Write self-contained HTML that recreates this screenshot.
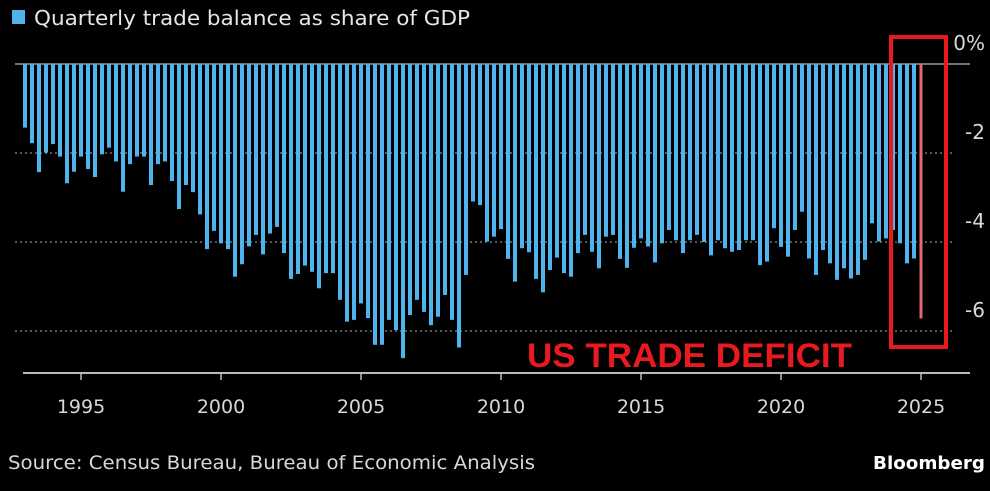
<!DOCTYPE html>
<html><head><meta charset="utf-8"><style>
html,body{margin:0;padding:0;background:#000;}
svg{display:block;font-family:"DejaVu Sans","Liberation Sans",sans-serif;}
</style></head><body>
<svg id="chart" width="990" height="491" viewBox="0 0 990 491">
<rect x="0" y="0" width="990" height="491" fill="#000"/>
<g>
<rect x="12" y="10" width="13" height="14" fill="#4fb3ee"/>
<text x="34" y="25" fill="#e6e6e6" font-size="20" textLength="436" lengthAdjust="spacingAndGlyphs">Quarterly trade balance as share of GDP</text>
</g>
<g id="grid"></g>
<g id="bars"></g>
<g id="xaxis"></g>
<g id="yaxis"></g>
<text x="527" y="367" fill="#e8191f" font-family="Liberation Sans, sans-serif" font-weight="bold" font-size="34" textLength="325" lengthAdjust="spacingAndGlyphs">US TRADE DEFICIT</text>
<rect x="891" y="37" width="55" height="310" fill="none" stroke="#e8191f" stroke-width="4"/>
<text x="8" y="469" fill="#d8d8d8" font-size="19" textLength="527" lengthAdjust="spacingAndGlyphs">Source: Census Bureau, Bureau of Economic Analysis</text>
<text x="985" y="469" fill="#fff" font-weight="bold" font-size="18" text-anchor="end" textLength="112" lengthAdjust="spacingAndGlyphs">Bloomberg</text>
</svg>
<script>
const startYear = 1993;
const values = [1.43,1.78,2.43,1.99,1.80,2.08,2.68,2.42,2.08,2.36,2.54,2.03,1.88,2.19,2.87,2.25,2.08,2.08,2.72,2.25,2.19,2.63,3.26,2.72,2.88,3.38,4.16,3.75,4.03,4.16,4.78,4.50,4.10,3.84,4.28,3.81,3.66,4.25,4.83,4.72,4.53,4.67,5.04,4.70,4.70,5.30,5.79,5.75,5.38,5.71,6.31,6.31,5.75,5.98,6.61,5.64,5.30,5.57,5.87,5.68,5.19,5.75,6.37,4.74,3.09,3.17,3.99,3.88,3.71,4.38,4.89,4.14,4.23,4.83,5.13,4.63,4.35,4.70,4.78,4.25,3.84,4.22,4.59,3.88,3.84,4.38,4.58,4.13,3.92,4.10,4.46,4.03,3.73,3.96,4.25,3.96,3.84,4.00,4.30,3.96,4.14,4.22,4.18,3.96,3.96,4.52,4.44,3.69,4.11,4.33,3.73,3.32,4.37,4.74,4.18,4.48,4.85,4.59,4.82,4.74,4.40,3.58,3.99,3.92,3.73,4.03,4.48,4.37,5.72];
const yTicks = [0,2,4,6];
const yTickLabels = ["0%","-2","-4","-6"];
const xYears = [1995,2000,2005,2010,2015,2020,2025];

const NS="http://www.w3.org/2000/svg";
function xScale(i){return 25 + i*7;}
function yScale(v){return 64 + v*44.5;}
function mk(tag,attrs,parent){const e=document.createElementNS(NS,tag);for(const k in attrs)e.setAttribute(k,attrs[k]);parent.appendChild(e);return e;}

const grid=document.getElementById('grid');
yTicks.forEach((t,i)=>{
  if(t===0){
    const l=mk('line',{x1:15,x2:970,y1:yScale(t),y2:yScale(t),stroke:'#9a9a9a','stroke-width':1.5},grid);
    
    
  } else {
    const l=mk('line',{x1:15,x2:955,y1:yScale(t),y2:yScale(t),stroke:'#8a8a8a','stroke-width':1.2,'stroke-dasharray':'2,3'},grid);
    
    
  }
});

const bars=document.getElementById('bars');
values.forEach((v,i)=>{
  const last=i===values.length-1;
  const w=last?3:4;
  const r=mk('rect',{x:xScale(i)-w/2,y:yScale(0),width:w,height:yScale(v)-yScale(0),fill:last?'#e46a6e':'#4fb3ee'},bars);
  
  
});

const xa=document.getElementById('xaxis');
const ax=mk('line',{x1:23,x2:970,y1:373,y2:373,stroke:'#bbb','stroke-width':2},xa);


xYears.forEach(y=>{
  const x=xScale((y-startYear)*4);
  const t=mk('line',{x1:x,x2:x,y1:373,y2:380,stroke:'#bbb','stroke-width':1.5},xa);
  
  
  const tx=mk('text',{x:x,y:413,fill:'#d8d8d8','font-size':19,'text-anchor':'middle'},xa);
  tx.textContent=y;
  
  
});

const ya=document.getElementById('yaxis');
yTicks.forEach((t,i)=>{
  const tx=mk('text',{x:985,y:yScale(t)-14,fill:'#d8d8d8','font-size':20,'text-anchor':'end'},ya);
  tx.textContent=yTickLabels[i];
  
  
});
</script>
</body></html>
